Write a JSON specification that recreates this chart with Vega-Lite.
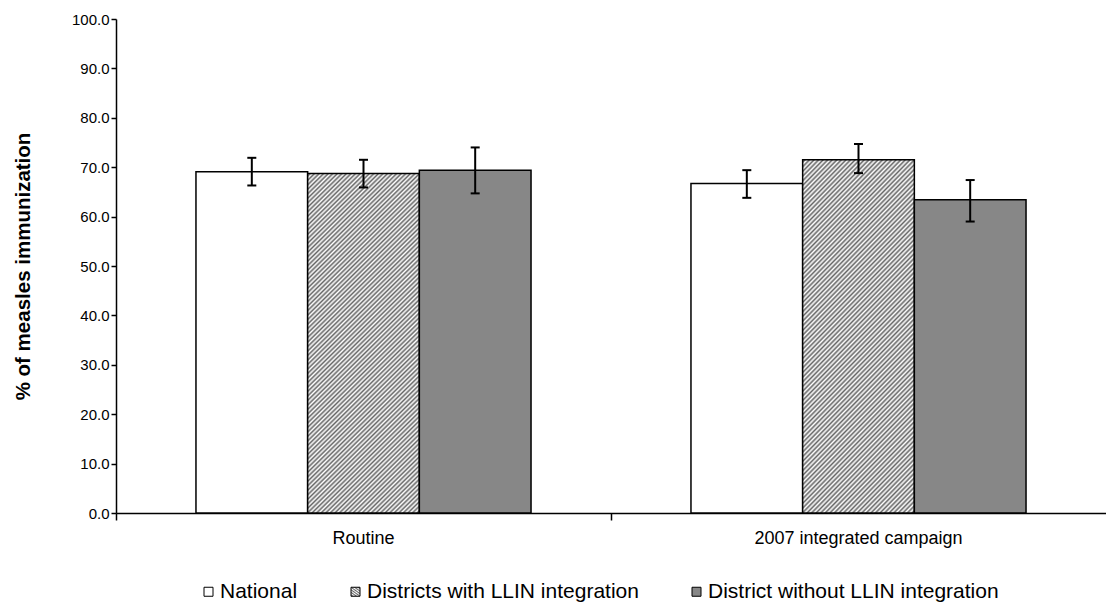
{
  "$schema": "https://vega.github.io/schema/vega-lite/v6.json",
  "width": 990,
  "height": 494,
  "autosize": "none",
  "padding": {"left": 116, "top": 19, "right": 0, "bottom": 91},
  "background": "white",
  "config": {"font": "Liberation Sans", "view": {"stroke": null}},
  "data": {
    "values": [
      {"group": "Routine", "series": "National", "value": 69.1, "lower": 66.3, "upper": 71.9},
      {"group": "Routine", "series": "Districts with LLIN integration", "value": 68.7, "lower": 65.9, "upper": 71.5},
      {"group": "Routine", "series": "District without LLIN integration", "value": 69.4, "lower": 64.7, "upper": 74.0},
      {"group": "2007 integrated campaign", "series": "National", "value": 66.7, "lower": 63.8, "upper": 69.4},
      {"group": "2007 integrated campaign", "series": "Districts with LLIN integration", "value": 71.5, "lower": 68.8, "upper": 74.7},
      {"group": "2007 integrated campaign", "series": "District without LLIN integration", "value": 63.4, "lower": 59.0, "upper": 67.4}
    ]
  },
  "encoding": {
    "x": {
      "field": "group", "type": "nominal",
      "sort": ["Routine", "2007 integrated campaign"],
      "scale": {"paddingInner": 0, "paddingOuter": 0},
      "axis": {
        "title": null, "labelAngle": 0, "bandPosition": 0, "grid": false,
        "tickSize": 7, "tickWidth": 1.5, "tickColor": "black",
        "domainColor": "black", "domainWidth": 1.5,
        "labelFontSize": 18, "labelColor": "black", "labelPadding": 9, "labelLimit": 400
      }
    },
    "xOffset": {
      "field": "series", "type": "nominal",
      "sort": ["National", "Districts with LLIN integration", "District without LLIN integration"],
      "scale": {"paddingInner": 0, "paddingOuter": 0.716}
    }
  },
  "layer": [
    {
      "mark": {"type": "bar", "strokeWidth": 1.5},
      "encoding": {
        "y": {
          "field": "value", "type": "quantitative",
          "scale": {"domain": [0, 100]},
          "axis": {
            "title": "% of measles immunization",
            "values": [0, 10, 20, 30, 40, 50, 60, 70, 80, 90, 100],
            "format": ".1f", "grid": false,
            "tickSize": 5, "tickWidth": 1.5, "tickColor": "black",
            "domainColor": "black", "domainWidth": 1.5,
            "labelFontSize": 15, "labelColor": "black", "labelPadding": 2,
            "titleFontSize": 20.5, "titleFontWeight": "bold", "titleColor": "black", "titlePadding": 38
          }
        },
        "fill": {
          "field": "series", "type": "nominal",
          "scale": {
            "domain": ["National", "Districts with LLIN integration", "District without LLIN integration"],
            "range": [
              "#ffffff",
              {"expr": "{gradient:'linear',x1:0,y1:0,x2:0.388,y2:1.198,stops:[{offset:0,color:'#fff'},{offset:0.005,color:'#666'},{offset:0.01,color:'#fff'},{offset:0.015,color:'#666'},{offset:0.02,color:'#fff'},{offset:0.025,color:'#666'},{offset:0.03,color:'#fff'},{offset:0.035,color:'#666'},{offset:0.04,color:'#fff'},{offset:0.045,color:'#666'},{offset:0.05,color:'#fff'},{offset:0.055,color:'#666'},{offset:0.06,color:'#fff'},{offset:0.065,color:'#666'},{offset:0.07,color:'#fff'},{offset:0.075,color:'#666'},{offset:0.08,color:'#fff'},{offset:0.085,color:'#666'},{offset:0.09,color:'#fff'},{offset:0.095,color:'#666'},{offset:0.1,color:'#fff'},{offset:0.105,color:'#666'},{offset:0.11,color:'#fff'},{offset:0.115,color:'#666'},{offset:0.12,color:'#fff'},{offset:0.125,color:'#666'},{offset:0.13,color:'#fff'},{offset:0.135,color:'#666'},{offset:0.14,color:'#fff'},{offset:0.145,color:'#666'},{offset:0.15,color:'#fff'},{offset:0.155,color:'#666'},{offset:0.16,color:'#fff'},{offset:0.165,color:'#666'},{offset:0.17,color:'#fff'},{offset:0.175,color:'#666'},{offset:0.18,color:'#fff'},{offset:0.185,color:'#666'},{offset:0.19,color:'#fff'},{offset:0.195,color:'#666'},{offset:0.2,color:'#fff'},{offset:0.205,color:'#666'},{offset:0.21,color:'#fff'},{offset:0.215,color:'#666'},{offset:0.22,color:'#fff'},{offset:0.225,color:'#666'},{offset:0.23,color:'#fff'},{offset:0.235,color:'#666'},{offset:0.24,color:'#fff'},{offset:0.245,color:'#666'},{offset:0.25,color:'#fff'},{offset:0.255,color:'#666'},{offset:0.26,color:'#fff'},{offset:0.265,color:'#666'},{offset:0.27,color:'#fff'},{offset:0.275,color:'#666'},{offset:0.28,color:'#fff'},{offset:0.285,color:'#666'},{offset:0.29,color:'#fff'},{offset:0.295,color:'#666'},{offset:0.3,color:'#fff'},{offset:0.305,color:'#666'},{offset:0.31,color:'#fff'},{offset:0.315,color:'#666'},{offset:0.32,color:'#fff'},{offset:0.325,color:'#666'},{offset:0.33,color:'#fff'},{offset:0.335,color:'#666'},{offset:0.34,color:'#fff'},{offset:0.345,color:'#666'},{offset:0.35,color:'#fff'},{offset:0.355,color:'#666'},{offset:0.36,color:'#fff'},{offset:0.365,color:'#666'},{offset:0.37,color:'#fff'},{offset:0.375,color:'#666'},{offset:0.38,color:'#fff'},{offset:0.385,color:'#666'},{offset:0.39,color:'#fff'},{offset:0.395,color:'#666'},{offset:0.4,color:'#fff'},{offset:0.405,color:'#666'},{offset:0.41,color:'#fff'},{offset:0.415,color:'#666'},{offset:0.42,color:'#fff'},{offset:0.425,color:'#666'},{offset:0.43,color:'#fff'},{offset:0.435,color:'#666'},{offset:0.44,color:'#fff'},{offset:0.445,color:'#666'},{offset:0.45,color:'#fff'},{offset:0.455,color:'#666'},{offset:0.46,color:'#fff'},{offset:0.465,color:'#666'},{offset:0.47,color:'#fff'},{offset:0.475,color:'#666'},{offset:0.48,color:'#fff'},{offset:0.485,color:'#666'},{offset:0.49,color:'#fff'},{offset:0.495,color:'#666'},{offset:0.5,color:'#fff'},{offset:0.505,color:'#666'},{offset:0.51,color:'#fff'},{offset:0.515,color:'#666'},{offset:0.52,color:'#fff'},{offset:0.525,color:'#666'},{offset:0.53,color:'#fff'},{offset:0.535,color:'#666'},{offset:0.54,color:'#fff'},{offset:0.545,color:'#666'},{offset:0.55,color:'#fff'},{offset:0.555,color:'#666'},{offset:0.56,color:'#fff'},{offset:0.565,color:'#666'},{offset:0.57,color:'#fff'},{offset:0.575,color:'#666'},{offset:0.58,color:'#fff'},{offset:0.585,color:'#666'},{offset:0.59,color:'#fff'},{offset:0.595,color:'#666'},{offset:0.6,color:'#fff'},{offset:0.605,color:'#666'},{offset:0.61,color:'#fff'},{offset:0.615,color:'#666'},{offset:0.62,color:'#fff'},{offset:0.625,color:'#666'},{offset:0.63,color:'#fff'},{offset:0.635,color:'#666'},{offset:0.64,color:'#fff'},{offset:0.645,color:'#666'},{offset:0.65,color:'#fff'},{offset:0.655,color:'#666'},{offset:0.66,color:'#fff'},{offset:0.665,color:'#666'},{offset:0.67,color:'#fff'},{offset:0.675,color:'#666'},{offset:0.68,color:'#fff'},{offset:0.685,color:'#666'},{offset:0.69,color:'#fff'},{offset:0.695,color:'#666'},{offset:0.7,color:'#fff'},{offset:0.705,color:'#666'},{offset:0.71,color:'#fff'},{offset:0.715,color:'#666'},{offset:0.72,color:'#fff'},{offset:0.725,color:'#666'},{offset:0.73,color:'#fff'},{offset:0.735,color:'#666'},{offset:0.74,color:'#fff'},{offset:0.745,color:'#666'},{offset:0.75,color:'#fff'},{offset:0.755,color:'#666'},{offset:0.76,color:'#fff'},{offset:0.765,color:'#666'},{offset:0.77,color:'#fff'},{offset:0.775,color:'#666'},{offset:0.78,color:'#fff'},{offset:0.785,color:'#666'},{offset:0.79,color:'#fff'},{offset:0.795,color:'#666'},{offset:0.8,color:'#fff'},{offset:0.805,color:'#666'},{offset:0.81,color:'#fff'},{offset:0.815,color:'#666'},{offset:0.82,color:'#fff'},{offset:0.825,color:'#666'},{offset:0.83,color:'#fff'},{offset:0.835,color:'#666'},{offset:0.84,color:'#fff'},{offset:0.845,color:'#666'},{offset:0.85,color:'#fff'},{offset:0.855,color:'#666'},{offset:0.86,color:'#fff'},{offset:0.865,color:'#666'},{offset:0.87,color:'#fff'},{offset:0.875,color:'#666'},{offset:0.88,color:'#fff'},{offset:0.885,color:'#666'},{offset:0.89,color:'#fff'},{offset:0.895,color:'#666'},{offset:0.9,color:'#fff'},{offset:0.905,color:'#666'},{offset:0.91,color:'#fff'},{offset:0.915,color:'#666'},{offset:0.92,color:'#fff'},{offset:0.925,color:'#666'},{offset:0.93,color:'#fff'},{offset:0.935,color:'#666'},{offset:0.94,color:'#fff'},{offset:0.945,color:'#666'},{offset:0.95,color:'#fff'},{offset:0.955,color:'#666'},{offset:0.96,color:'#fff'},{offset:0.965,color:'#666'},{offset:0.97,color:'#fff'},{offset:0.975,color:'#666'},{offset:0.98,color:'#fff'},{offset:0.985,color:'#666'},{offset:0.99,color:'#fff'},{offset:0.995,color:'#666'},{offset:1,color:'#fff'}]}"},
              "#878787"
            ]
          },
          "legend": {
            "title": null, "orient": "none", "direction": "horizontal",
            "legendX": 82, "legendY": 562, "padding": 0,
            "symbolType": "square", "symbolSize": 81,
            "symbolStrokeColor": "black", "symbolStrokeWidth": 1,
            "labelFontSize": 21, "labelColor": "black", "labelOffset": 1, "labelLimit": 500,
            "columnPadding": 47
          }
        },
        "stroke": {
          "field": "series", "type": "nominal",
          "scale": {
            "domain": ["National", "Districts with LLIN integration", "District without LLIN integration"],
            "range": ["#000000", "#000000", "#000000"]
          },
          "legend": {
            "title": null, "orient": "none", "direction": "horizontal",
            "legendX": 82, "legendY": 562, "padding": 0,
            "symbolType": "square", "symbolSize": 81,
            "symbolStrokeWidth": 1,
            "labelFontSize": 21, "labelColor": "black", "labelOffset": 1, "labelLimit": 500,
            "columnPadding": 47
          }
        }
      }
    },
    {
      "mark": {"type": "rule", "stroke": "black", "strokeWidth": 2},
      "encoding": {
        "y": {"field": "lower", "type": "quantitative", "title": "% of measles immunization"},
        "y2": {"field": "upper"}
      }
    },
    {
      "mark": {"type": "tick", "color": "black", "size": 9, "thickness": 2, "opacity": 1},
      "encoding": {
        "y": {"field": "upper", "type": "quantitative", "title": "% of measles immunization"}
      }
    },
    {
      "mark": {"type": "tick", "color": "black", "size": 9, "thickness": 2, "opacity": 1},
      "encoding": {
        "y": {"field": "lower", "type": "quantitative", "title": "% of measles immunization"}
      }
    }
  ]
}
